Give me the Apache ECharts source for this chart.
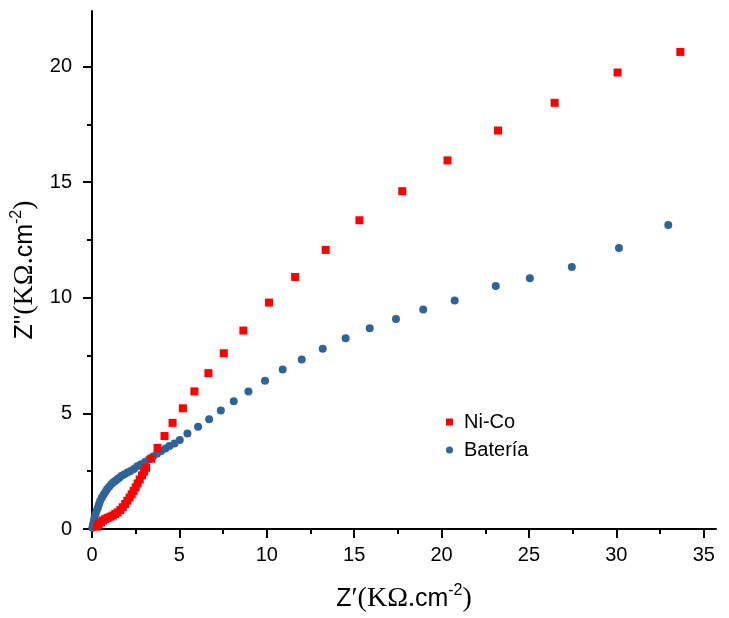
<!DOCTYPE html>
<html><head><meta charset="utf-8">
<script src="https://cdn.jsdelivr.net/npm/echarts@6/dist/echarts.min.js"></script>
<style>html,body{margin:0;padding:0;background:#fff}#c{width:729px;height:618px}</style>
</head><body><div id="c"></div>
<script>
const niCoX = [0.29,0.38,0.51,0.63,0.76,0.9,1.05,1.19,1.33,1.47,1.62,1.76,1.9,2.02,2.15,2.27,2.38,2.5,2.61,2.73,2.86,2.98,3.1,3.39,3.75,4.15,4.61,5.2,5.86,6.66,7.54,8.66,10.13,11.62,13.37,15.3,17.75,20.34,23.23,26.47,30.07,33.66];
const niCoY = [0.1,0.2,0.29,0.37,0.43,0.48,0.53,0.58,0.65,0.72,0.82,0.94,1.08,1.22,1.36,1.5,1.65,1.8,1.97,2.14,2.32,2.48,2.65,3.04,3.51,4.02,4.59,5.22,5.95,6.74,7.6,8.58,9.79,10.9,12.07,13.35,14.61,15.94,17.23,18.43,19.74,20.63];
const bateriaX = [0.02,0.06,0.1,0.15,0.2,0.27,0.34,0.4,0.47,0.56,0.66,0.76,0.86,0.98,1.1,1.22,1.33,1.45,1.56,1.7,1.86,2.03,2.21,2.4,2.59,2.8,3.05,3.27,3.49,3.72,3.96,4.2,4.43,4.72,5.02,5.46,6.07,6.7,7.37,8.11,8.95,9.9,10.91,12.0,13.2,14.51,15.89,17.39,18.95,20.75,23.1,25.05,27.45,30.15,32.97];
const bateriaY = [0.05,0.2,0.36,0.5,0.65,0.8,0.93,1.07,1.22,1.35,1.48,1.6,1.72,1.83,1.94,2.02,2.08,2.15,2.22,2.3,2.37,2.44,2.51,2.6,2.71,2.8,2.91,3.02,3.13,3.25,3.37,3.48,3.59,3.7,3.85,4.13,4.42,4.75,5.12,5.52,5.95,6.41,6.9,7.33,7.8,8.25,8.68,9.08,9.49,9.88,10.51,10.84,11.33,12.15,13.15];
const xTicks = [0,5,10,15,20,25,30,35];
const yTicks = [0,5,10,15,20];
const xMinorTicks = [2.5,7.5,12.5,17.5,22.5,27.5,32.5];
const yMinorTicks = [2.5,7.5,12.5,17.5];
const seriesNames = ['Ni-Co','Batería'];

const SANS = 'Liberation Sans', SERIF = 'Liberation Serif';
const X_MIN = 0, X_MAX = 35.7, Y_MIN = 0, Y_MAX = 22.4;
const nameRich = {
  a: {fontFamily: SANS, fontSize: 25, color: '#000', lineHeight: 32},
  s: {fontFamily: SERIF, fontSize: 28, color: '#000', lineHeight: 32},
  sup: {fontFamily: SANS, fontSize: 16, color: '#000', verticalAlign: 'top', lineHeight: 32}
};
const zip = (xs, ys) => xs.map((x, i) => [x, ys[i]]);
const chart = echarts.init(document.getElementById('c'), null, {renderer: 'canvas'});
const mainX = {
  type: 'value', min: X_MIN, max: X_MAX, position: 'bottom',
  splitLine: {show: false},
  axisLine: {show: true, onZero: false, lineStyle: {color: '#000', width: 2}},
  axisTick: {show: true, customValues: xTicks, length: 9, lineStyle: {color: '#000', width: 2}},
  axisLabel: {customValues: xTicks, color: '#000', fontFamily: SANS, fontSize: 20, margin: 16},
  name: '{a|Z}{s|′(KΩ.}{a|cm}{sup|-2}{s|)}',
  nameLocation: 'middle', nameGap: 54,
  nameTextStyle: {rich: nameRich}
};
const minorX = {
  type: 'value', min: X_MIN, max: X_MAX, position: 'bottom',
  splitLine: {show: false}, axisLine: {show: false},
  axisTick: {show: true, customValues: xMinorTicks, length: 5, lineStyle: {color: '#000', width: 2}},
  axisLabel: {show: false}
};
const mainY = {
  type: 'value', min: Y_MIN, max: Y_MAX, position: 'left',
  splitLine: {show: false},
  axisLine: {show: true, onZero: false, lineStyle: {color: '#000', width: 2}},
  axisTick: {show: true, customValues: yTicks, length: 9, lineStyle: {color: '#000', width: 2}},
  axisLabel: {customValues: yTicks, color: '#000', fontFamily: SANS, fontSize: 20, margin: 20},
  name: '{a|Z\'\'}{s|(KΩ.}{a|cm}{sup|-2}{s|)}',
  nameLocation: 'middle', nameGap: 47,
  nameTextStyle: {rich: nameRich}
};
const minorY = {
  type: 'value', min: Y_MIN, max: Y_MAX, position: 'left',
  splitLine: {show: false}, axisLine: {show: false},
  axisTick: {show: true, customValues: yMinorTicks, length: 5, lineStyle: {color: '#000', width: 2}},
  axisLabel: {show: false}
};
chart.setOption({
  backgroundColor: '#fff',
  animation: false,
  grid: {left: 92, right: 13, top: 11, bottom: 86, containLabel: false},
  xAxis: [mainX, minorX],
  yAxis: [mainY, minorY],
  legend: {
    orient: 'vertical', left: 441, top: 407,
    itemWidth: 7, itemHeight: 7, itemGap: 8,
    textStyle: {fontFamily: SANS, fontSize: 20, color: '#000', padding: [0, 0, 0, 6]},
    data: [{name: seriesNames[0], icon: 'rect'}, {name: seriesNames[1], icon: 'circle'}]
  },
  series: [
    {name: seriesNames[0], type: 'scatter', symbol: 'rect', symbolSize: 8,
     itemStyle: {color: '#ff0000', opacity: 1}, data: zip(niCoX, niCoY), z: 3},
    {name: seriesNames[1], type: 'scatter', symbol: 'circle', symbolSize: 8,
     itemStyle: {color: '#2f6499', opacity: 1}, data: zip(bateriaX, bateriaY), z: 2}
  ]
});
</script></body></html>
